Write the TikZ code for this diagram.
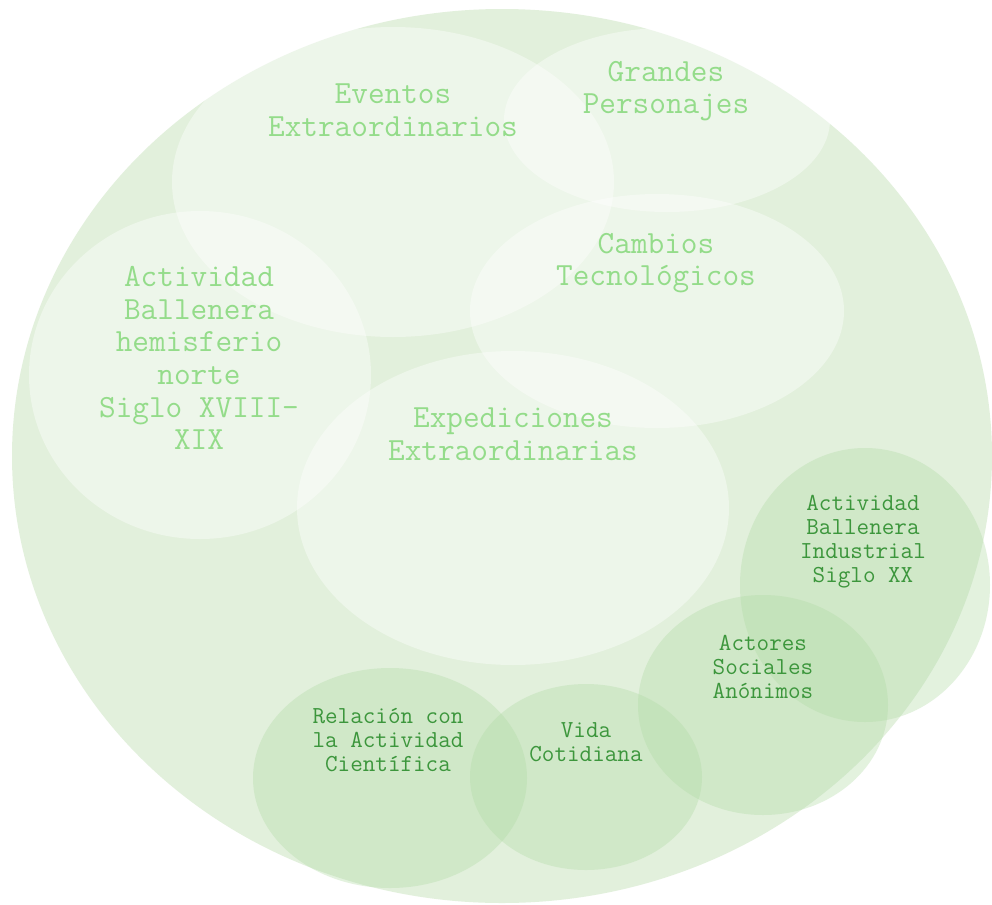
\documentclass[tikz,border=0pt]{standalone}
\usepackage{fontspec}
\definecolor{fondo}{RGB}{226,240,220}
\definecolor{velo}{RGB}{175,218,163}
\definecolor{verdeclaro}{RGB}{148,220,138}
\definecolor{verdeoscuro}{RGB}{60,150,60}

\begin{document}
\begin{tikzpicture}[x=0.02cm,y=-0.02cm,
  burbuja/.style={fill=white,fill opacity=0.4},
  grupo/.style={fill=velo,fill opacity=0.35},
  tema/.style={align=center,inner sep=0pt,text=verdeclaro,
    font=\ttfamily\fontsize{18.4}{18.6}\selectfont},
  subtema/.style={align=center,inner sep=0pt,text=verdeoscuro,
    font=\ttfamily\fontsize{13.9}{13.7}\selectfont}]
\fill[white] (0,0) rectangle (992,904);
\useasboundingbox (0,0) rectangle (992,904);

\fill[fondo] (502,456) ellipse [x radius=490, y radius=447];

\fill[burbuja] (393,182) ellipse [x radius=221, y radius=155];
\fill[burbuja] (667,120) ellipse [x radius=163, y radius=92];
\fill[burbuja] (657,311) ellipse [x radius=187, y radius=117];
\fill[burbuja] (200,375) ellipse [x radius=171, y radius=164];
\fill[burbuja] (513,508) ellipse [x radius=216, y radius=157];

\fill[grupo] (865,585) ellipse [x radius=125, y radius=137];
\fill[grupo] (763,705) ellipse [x radius=125, y radius=110];
\fill[grupo] (390,778) ellipse [x radius=137, y radius=110];
\fill[grupo] (586,777) ellipse [x radius=116, y radius=93];

\node[tema] (eventos)   at (393,110) {Eventos\\Extraordinarios};
\node[tema] (grandes)   at (666,91)  {Grandes\\Personajes};
\node[tema] (cambios)   at (656,263) {Cambios\\Tecnológicos};
\node[tema] (norte)     at (199,358) {Actividad\\Ballenera\\hemisferio\\norte\\Siglo XVIII-\\XIX};
\node[tema] (expedic)   at (513,434) {Expediciones\\Extraordinarias};

\node[subtema] (industrial) at (863,542) {Actividad\\Ballenera\\Industrial\\Siglo XX};
\node[subtema] (actores)    at (763,667) {Actores\\Sociales\\Anónimos};
\node[subtema] (ciencia)    at (388,740) {Relación con\\la Actividad\\Científica};
\node[subtema] (vida)       at (586,742) {Vida\\Cotidiana};

\end{tikzpicture}
\end{document}
